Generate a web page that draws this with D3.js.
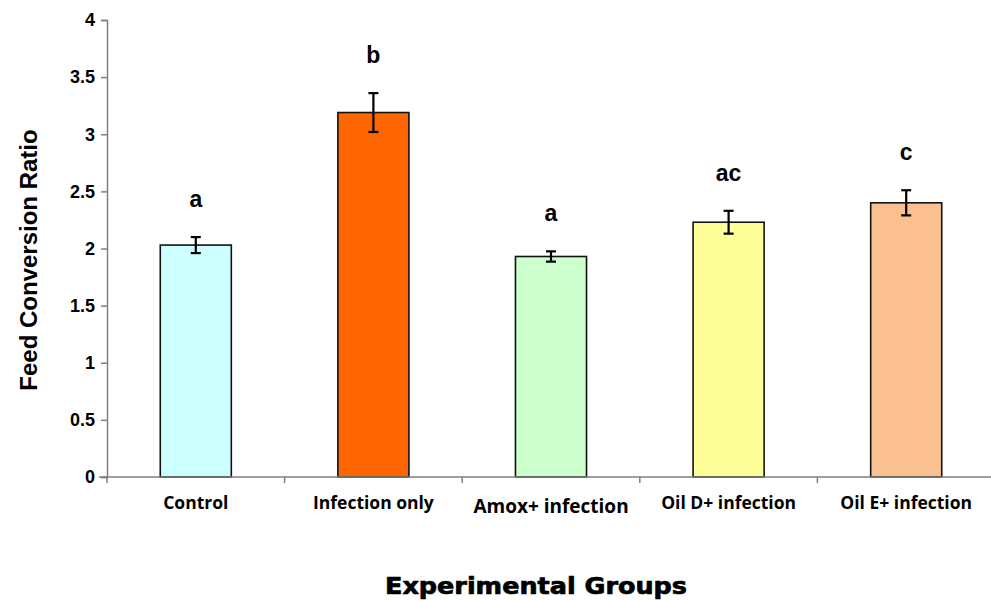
<!DOCTYPE html>
<html>
<head>
<meta charset="utf-8">
<script src="https://cdn.jsdelivr.net/npm/d3@7"></script>
<style>
  body { margin: 0; background: #fff; }
  svg { display: block; }
</style>
</head>
<body>
<div id="chart"></div>
<script>
// data
const groups = ["Control", "Infection only", "Amox+ infection", "Oil D+ infection", "Oil E+ infection"];
const fcr = [2.03, 3.19, 1.93, 2.23, 2.40];
const fcrErr = [0.07, 0.17, 0.045, 0.10, 0.11];
const letters = ["a", "b", "a", "ac", "c"];
const barColors = ["#ccffff", "#ff6600", "#ccffcc", "#ffff99", "#fac08f"];
const yTicks = [0, 0.5, 1, 1.5, 2, 2.5, 3, 3.5, 4];

const width = 991;
const height = 601;
const margin = { top: 20, right: -4, bottom: 124, left: 107 };

const svg = d3.select("#chart")
    .append("svg")
    .attr("width", width)
    .attr("height", height);

const x = d3.scaleBand()
    .domain(groups)
    .range([margin.left, width - margin.right])
    .padding(0);

const y = d3.scaleLinear()
    .domain([0, 4])
    .range([height - margin.bottom, margin.top]);

const barW = x.bandwidth() * 0.4;

// y axis
const yAxis = svg.append("g")
    .attr("transform", "translate(" + margin.left + ",0)")
    .call(d3.axisLeft(y).tickValues(yTicks).tickFormat(d3.format("")).tickSize(6).tickPadding(6));
yAxis.select(".domain").attr("stroke", "#7f7f7f").attr("stroke-width", 1.5);
yAxis.selectAll(".tick line").attr("stroke", "#7f7f7f").attr("stroke-width", 1.5);
yAxis.selectAll(".tick text")
    .attr("font-family", "Arial, 'Liberation Sans', sans-serif")
    .attr("font-weight", "bold")
    .attr("font-size", 18)
    .attr("fill", "#000");

// bars
svg.selectAll("rect.bar")
    .data(groups)
    .enter().append("rect")
    .attr("class", "bar")
    .attr("x", (d) => x(d) + x.bandwidth() / 2 - barW / 2)
    .attr("y", (d, i) => y(fcr[i]))
    .attr("width", barW)
    .attr("height", (d, i) => y(0) - y(fcr[i]))
    .attr("fill", (d, i) => barColors[i])
    .attr("stroke", "#111")
    .attr("stroke-width", 1.6);

// x axis (drawn after bars so the baseline sits on top)
const xAxis = svg.append("g")
    .attr("transform", "translate(0," + y(0) + ")");
xAxis.append("line")
    .attr("x1", margin.left - 8)
    .attr("x2", width)
    .attr("stroke", "#7f7f7f")
    .attr("stroke-width", 1.5);
xAxis.selectAll("line.tk")
    .data(groups)
    .enter().append("line")
    .attr("class", "tk")
    .attr("x1", (d) => x(d))
    .attr("x2", (d) => x(d))
    .attr("y1", 0)
    .attr("y2", 6)
    .attr("stroke", "#7f7f7f")
    .attr("stroke-width", 1.5);
xAxis.selectAll("text")
    .data(groups)
    .enter().append("text")
    .attr("x", (d) => x(d) + x.bandwidth() / 2)
    .attr("y", (d, i) => i == 2 ? 36 : 32)
    .attr("text-anchor", "middle")
    .attr("font-family", "'Open Sans', sans-serif")
    .attr("font-weight", "bold")
    .attr("font-size", (d, i) => i == 2 ? 19 : 17.5)
    .attr("fill", "#000")
    .text((d) => d);

// error bars
const eb = svg.selectAll("g.err")
    .data(groups)
    .enter().append("g")
    .attr("class", "err")
    .attr("stroke", "#000")
    .attr("stroke-width", 2.2);
const cx = (d) => x(d) + x.bandwidth() / 2;
eb.append("line")
    .attr("x1", cx).attr("x2", cx)
    .attr("y1", (d, i) => y(fcr[i] + fcrErr[i]))
    .attr("y2", (d, i) => y(fcr[i] - fcrErr[i]));
eb.append("line")
    .attr("x1", (d) => cx(d) - 5).attr("x2", (d) => cx(d) + 5)
    .attr("y1", (d, i) => y(fcr[i] + fcrErr[i]))
    .attr("y2", (d, i) => y(fcr[i] + fcrErr[i]));
eb.append("line")
    .attr("x1", (d) => cx(d) - 5).attr("x2", (d) => cx(d) + 5)
    .attr("y1", (d, i) => y(fcr[i] - fcrErr[i]))
    .attr("y2", (d, i) => y(fcr[i] - fcrErr[i]));

// significance letters
svg.selectAll("text.letter")
    .data(groups)
    .enter().append("text")
    .attr("class", "letter")
    .attr("x", cx)
    .attr("y", (d, i) => y(fcr[i] + fcrErr[i]) - 30)
    .attr("text-anchor", "middle")
    .attr("font-family", "Arial, 'Liberation Sans', sans-serif")
    .attr("font-weight", "bold")
    .attr("font-size", 23)
    .attr("fill", "#000")
    .text((d, i) => letters[i]);

// axis titles
svg.append("text")
    .attr("transform", "translate(37," + 260 + ") rotate(-90)")
    .attr("text-anchor", "middle")
    .attr("font-family", "Arial, 'Liberation Sans', sans-serif")
    .attr("font-weight", "bold")
    .attr("font-size", 24)
    .attr("fill", "#000")
    .text("Feed Conversion Ratio");

svg.append("text")
    .attr("x", 536)
    .attr("y", 594)
    .attr("text-anchor", "middle")
    .attr("font-family", "'DejaVu Sans', sans-serif")
    .attr("font-weight", "bold")
    .attr("font-size", 23)
    .attr("textLength", 302)
    .attr("lengthAdjust", "spacingAndGlyphs")
    .attr("stroke", "#000")
    .attr("stroke-width", 0.7)
    .attr("fill", "#000")
    .text("Experimental Groups");
</script>
</body>
</html>
